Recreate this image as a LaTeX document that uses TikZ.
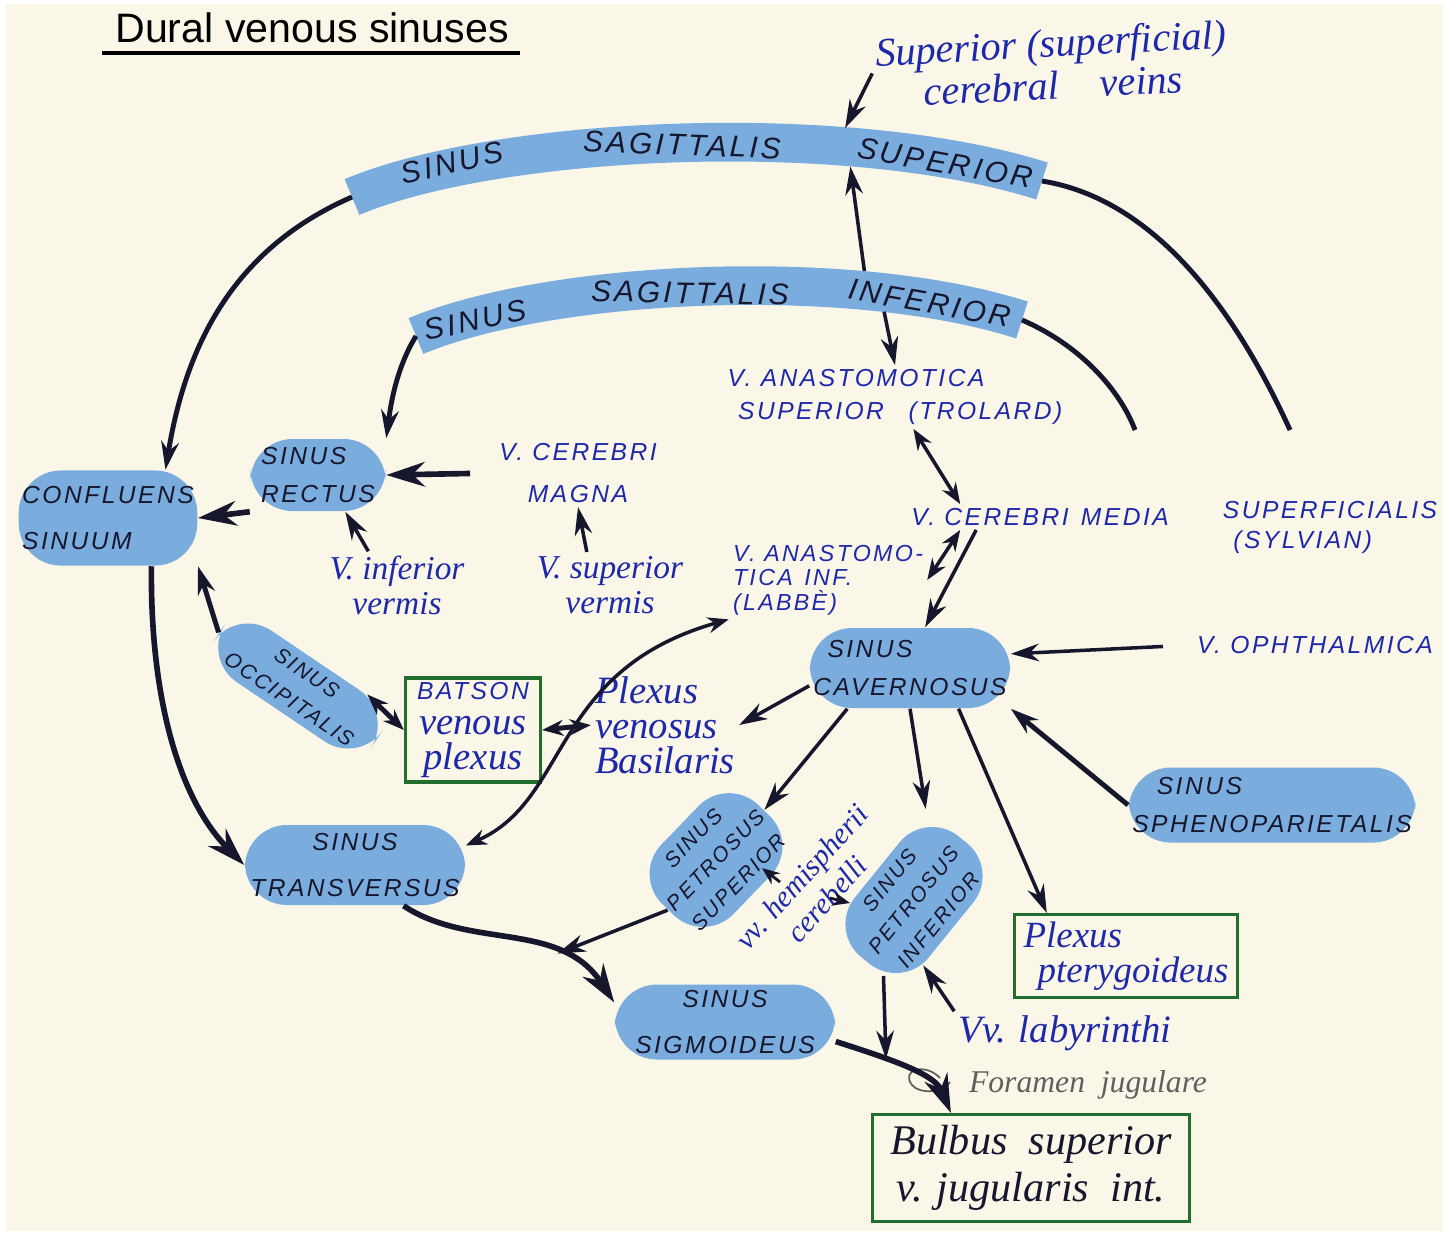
\documentclass[tikz,border=0pt]{standalone}
\usepackage{fontspec}
\usepackage{tikz}
\usetikzlibrary{arrows.meta}
\usetikzlibrary{positioning}
\usetikzlibrary{calc}

\newfontfamily\handcaps[LetterSpace=10]{Liberation Sans}
\newfontfamily\penfont{Liberation Serif}
\newfontfamily\titlefont{Liberation Sans}

\definecolor{paper}{RGB}{250,247,232}
\definecolor{pencil}{RGB}{122,172,222}
\definecolor{inkblue}{RGB}{30,40,170}
\definecolor{inkblack}{RGB}{22,22,45}
\definecolor{boxgreen}{RGB}{35,110,45}
\definecolor{pencilgray}{RGB}{95,95,95}

\begin{document}
\begin{tikzpicture}[x=0.01cm, y=-0.01cm,
    capslbl/.style={font=\handcaps\itshape\fontsize{7}{11}\selectfont, text=inkblack, align=center, inner sep=1pt},
    bcaps/.style={capslbl, text=inkblue},
    bandlbl/.style={capslbl, font=\handcaps\itshape\fontsize{8.5}{10}\selectfont},
    penlbl/.style={font=\penfont\itshape\fontsize{11}{10}\selectfont, text=inkblue, align=center, inner sep=1pt},
    blob/.style={capslbl, fill=pencil, rounded corners=12pt},
    gbox/.style={draw=boxgreen, line width=0.9pt},
    band/.style={draw=pencil, line width=11pt},
    sweep/.style={draw=inkblack, line width=1.4pt},
    arr/.style={draw=inkblack, line width=1pt, -{Stealth[length=8pt,width=5pt]}},
    darr/.style={draw=inkblack, line width=1pt, {Stealth[length=6pt,width=4.5pt]}-{Stealth[length=6pt,width=4.5pt]}},
    bigarr/.style={draw=inkblack, line width=1.6pt, -{Stealth[length=11pt,width=7pt]}}]

    % Paper
    \useasboundingbox (0,0) rectangle (1449,1235);
    \fill[white] (0,0) rectangle (1449,1235);
    \fill[paper] (6,4) rectangle (1443,1231);

    % Title
    \node[font=\titlefont\fontsize{11.7}{14}\selectfont, inner sep=1pt] (title) at (312,28) {Dural venous sinuses};
    \draw[line width=0.9pt] (102,53) -- (520,53);

    % Sagittal sinuses (pencil bands)
    \coordinate (sssA) at (352,197);
    \coordinate (sssB) at (1042,181);
    \coordinate (siiA) at (416,336);
    \coordinate (siiB) at (1022,320);
    \draw[band] (sssA) .. controls (500,135) and (850,120) .. (sssB)
        coordinate[pos=0.7] (sss-in) coordinate[pos=0.715] (sss-dn);
    \draw[band] (siiA) .. controls (550,280) and (850,265) .. (siiB)
        coordinate[pos=0.74] (sii-up) coordinate[pos=0.76] (sii-dn);
    \node[bandlbl, rotate=13] (sss1) at (452,163) {SINUS};
    \node[bandlbl, rotate=-2] (sss2) at (682,145) {SAGITTALIS};
    \node[bandlbl, rotate=-10] (sss3) at (945,163) {SUPERIOR};
    \node[bandlbl, rotate=12] (sii1) at (475,320) {SINUS};
    \node[bandlbl, rotate=-1] (sii2) at (690,293) {SAGITTALIS};
    \node[bandlbl, rotate=-10] (sii3) at (930,303) {INFERIOR};
    \coordinate (sylv-up) at (1290,430);
    \coordinate (media-up) at (1135,430);

    % Veins on top
    \node[penlbl, font=\penfont\itshape\fontsize{11.5}{12}\selectfont, rotate=3] (supcv) at (1052,64) {Superior (superficial)\\cerebral\quad veins};

    % Posterior sinuses
    \node[blob, align=left, minimum width=1.75cm, minimum height=0.95cm] (confl) at (108,518) {CONFLUENS\\[2pt]SINUUM};
    \node[blob, align=left, minimum width=1.35cm, minimum height=0.72cm] (rectus) at (318,475) {SINUS\\RECTUS};
    \node[bcaps] (magna) at (578,473) {V. CEREBRI\\[1pt]MAGNA};
    \node[penlbl, font=\penfont\itshape\fontsize{9.5}{10}\selectfont] (infv) at (397,585) {V. inferior\\vermis};
    \node[penlbl, font=\penfont\itshape\fontsize{9.5}{10}\selectfont] (supv) at (610,585) {V. superior\\vermis};
    \node[blob, font=\handcaps\itshape\fontsize{6}{9}\selectfont, rotate=-34, minimum width=1.9cm, minimum height=0.62cm] (occ) at (298,686) {SINUS\\OCCIPITALIS};
    \node[gbox, penlbl, minimum width=1.35cm, minimum height=1.04cm] (batson) at (473,730) {{\handcaps\itshape\fontsize{7}{10}\selectfont BATSON}\\venous\\plexus};
    \node[penlbl, align=left] (plexbas) at (665,725) {Plexus\\venosus\\Basilaris};
    \node[blob, minimum width=2.2cm, minimum height=0.8cm] (transv) at (355,865) {SINUS\\[2pt]TRANSVERSUS};
    \node[blob, minimum width=2.2cm, minimum height=0.75cm] (sigm) at (725,1022) {SINUS\\[2pt]SIGMOIDEUS};

    % Middle cerebral vein and anastomoses
    \node[bcaps, align=left] (trolard) at (895,397) {V. ANASTOMOTICA\\[-1.6pt]\hspace*{3pt}SUPERIOR\quad(TROLARD)};
    \node[bcaps] (media) at (1040,517) {V. CEREBRI\enspace MEDIA};
    \node[bcaps, align=left] (sylv) at (1330,527) {SUPERFICIALIS\\[-2.5pt]\hspace*{3pt}(SYLVIAN)};
    \node[bcaps, align=left, font=\handcaps\itshape\fontsize{6.6}{11}\selectfont] (labbe) at (828,580) {V. ANASTOMO-\\[-4pt]TICA\enspace INF.\\[-4pt](LABBÈ)};

    % Cavernous sinus and its tributaries
    \node[blob, align=left, minimum width=2cm, minimum height=0.8cm] (caver) at (910,668) {\hspace*{4pt}SINUS\\CAVERNOSUS};
    \node[bcaps] (ophth) at (1315,645) {V. OPHTHALMICA};
    \node[blob, align=left, minimum width=2.8cm, minimum height=0.75cm] (spheno) at (1272,805) {\hspace*{7pt}SINUS\\SPHENOPARIETALIS};
    \node[blob, font=\handcaps\itshape\fontsize{6}{11}\selectfont, rotate=46, minimum width=1.35cm, minimum height=1cm] (petsup) at (716,860) {SINUS\\[-2pt]PETROSUS\\[-2pt]SUPERIOR};
    \node[blob, font=\handcaps\itshape\fontsize{6}{11}\selectfont, rotate=51, minimum width=1.55cm, minimum height=0.95cm] (petinf) at (914,900) {SINUS\\[-2pt]PETROSUS\\[-2pt]INFERIOR};
    \node[penlbl, font=\penfont\itshape\fontsize{8.5}{9.5}\selectfont, rotate=48] (hemi) at (814,888) {vv. hemispherii\\cerebelli};
    \node[gbox, penlbl, align=left, font=\penfont\itshape\fontsize{10.5}{10}\selectfont, minimum width=2.23cm, minimum height=0.83cm] (pteryg) at (1126,956) {Plexus\\\hspace*{4pt}pterygoideus};
    \node[penlbl] (labyr) at (1065,1033) {Vv. labyrinthi};

    % Jugular foramen and bulb
    \node[penlbl, text=pencilgray, font=\penfont\itshape\fontsize{9}{10}\selectfont] (foramen) at (1088,1085) {Foramen\enspace jugulare};
    \node[gbox, penlbl, text=inkblack, font=\penfont\itshape\fontsize{12}{13.4}\selectfont, minimum width=3.17cm, minimum height=1.07cm] (bulbus) at (1031,1168) {Bulbus\enspace superior\\v. jugularis\enspace int.};
    \draw[pencilgray, line width=0.5pt] (940,1078) .. controls (925,1062) and (900,1070) .. (912,1085) .. controls (920,1095) and (945,1092) .. (950,1082);

    % Outflow of the sagittal sinuses
    \draw[arr, shorten >=0.2cm] (supcv.west) -- (sss-in);
    \draw[arr, shorten <=0.2cm, shorten >=0.2cm] (sii-up) -- (sss-dn);
    \draw[arr, shorten <=0.2cm] (sii-dn) -- (trolard.north);
    \draw[arr, line width=1.4pt] (sssA) .. controls (230,250) and (185,350) .. (confl.40);
    \draw[arr, line width=1.4pt] (siiA) .. controls (395,370) and (390,410) .. (rectus.north east);
    \draw[sweep] (sssB) .. controls (1160,200) and (1240,320) .. (sylv-up);
    \draw[sweep] (siiB) .. controls (1080,345) and (1120,390) .. (media-up);

    % Into the confluens
    \draw[bigarr] (rectus.south west) -- (confl.east);
    \draw[bigarr, shorten <=0.25cm] (magna.west) -- (rectus.east);
    \draw[arr] ($(infv.north)!0.4!(infv.north west)$) -- ($(rectus.south)!0.4!(rectus.south east)$);
    \draw[arr] ($(supv.north)!0.3!(supv.north west)$) -- (magna.south);
    \draw[arr, line width=1.4pt] (occ.west) -- (confl.south east);
    \draw[darr, line width=1.4pt] ($(occ.north)!0.65!(occ.north east)$) -- (batson.west);
    \draw[darr, line width=1.4pt] (batson.east) -- (plexbas.west);

    % Transverse and sigmoid sinuses
    \draw[bigarr] (confl.-48) .. controls (150,700) and (180,800) .. (transv.west);
    \draw[darr] (labbe.south west) .. controls (550,670) and (570,800) .. (transv.10);
    \draw[bigarr] (transv.-40) .. controls (470,950) and (560,920) .. (sigm.170) coordinate[pos=0.7] (ts-join);
    \draw[bigarr] (sigm.-10) .. controls (900,1062) and (935,1075) .. ($(bulbus.north west)!0.25!(bulbus.north east)$) coordinate[pos=0.3] (sb-join);

    % Middle cerebral vein
    \draw[darr] (trolard.-60) -- ($(media.north west)!0.2!(media.north east)$);
    \draw[darr] (labbe.east) -- ($(media.south west)!0.2!(media.south east)$);
    \draw[arr] ($(media.south west)!0.26!(media.south east)$) -- ($(caver.north)!0.15!(caver.north east)$);

    % Cavernous sinus connections
    \draw[arr, shorten <=0.3cm] (ophth.west) -- (caver.8);
    \draw[arr, line width=1.4pt] (spheno.west) -- (caver.south east);
    \draw[arr] (caver.190) -- (plexbas.east);
    \draw[arr] (caver.-147) -- (petsup.east);
    \draw[arr] (caver.south) -- (petinf.north east);
    \draw[arr] (caver.-40) -- ($(pteryg.north west)!0.15!(pteryg.north east)$);

    % Petrosal sinuses
    \draw[arr] (petsup.west) -- (ts-join);
    \draw[arr] ($(petinf.west)!0.5!(petinf.south west)$) -- (sb-join);
    \draw[arr] (labyr.north west) -- (petinf.-133);
    \draw[draw=inkblack, line width=0.8pt, -{Stealth[length=5pt,width=4pt]}] ($(hemi)+(-34,-6)$) -- ($(hemi)+(-52,-20)$);
    \draw[draw=inkblack, line width=0.8pt, -{Stealth[length=5pt,width=4pt]}] ($(hemi)+(16,10)$) -- ($(hemi)+(36,15)$);

\end{tikzpicture}
\end{document}
